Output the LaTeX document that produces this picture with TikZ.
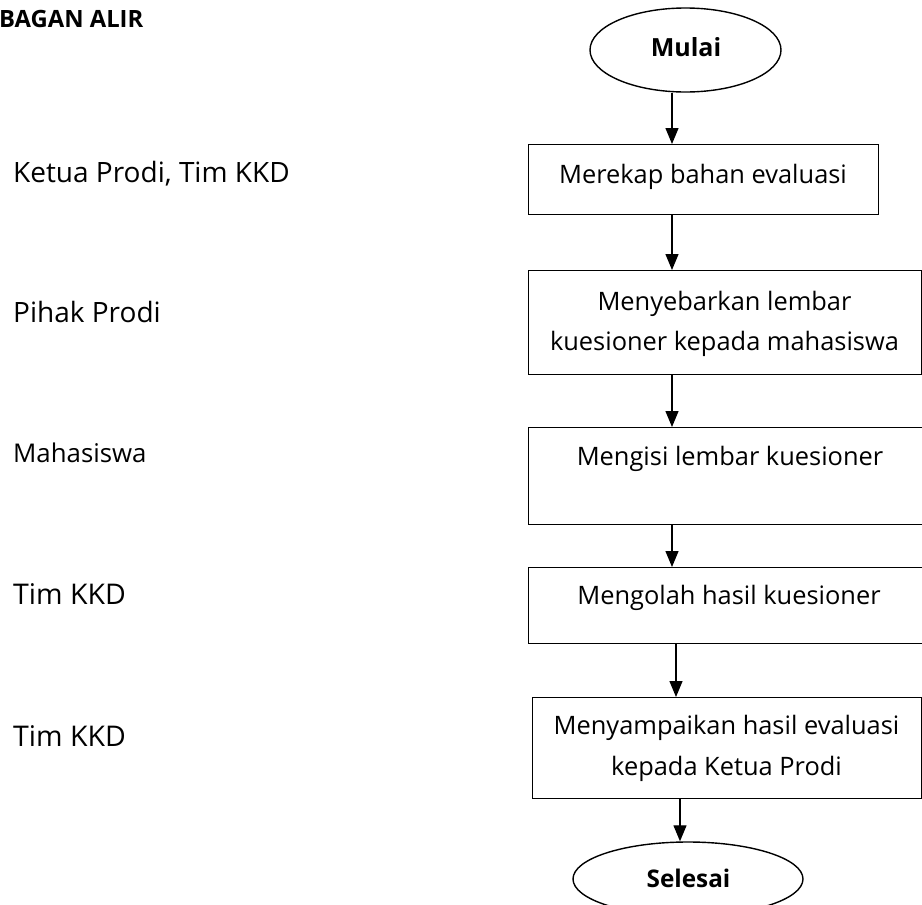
\documentclass[tikz,border=0pt]{standalone}
\usepackage{fontspec}
\setmainfont{Open Sans}
\usetikzlibrary{shapes.geometric,arrows.meta}
\begin{document}
\begin{tikzpicture}[x=1pt,y=-1pt,
  box/.style={draw,line width=1.4pt,inner sep=0pt,anchor=north west},
  term/.style={draw,ellipse,line width=1.4pt,inner sep=0pt},
  arr/.style={line width=1.3pt,-{Triangle[length=16pt,width=13pt]}},
  txt/.style={anchor=base,inner sep=0pt,font=\fontsize{25.4}{30}\selectfont},
  lbl/.style={anchor=base west,inner sep=0pt}]
\useasboundingbox (0,0) rectangle (922,905);
\clip (0,0) rectangle (922,905);
% title
\node[lbl,font=\fontsize{23.8}{30}\selectfont\bfseries] (title) at (-1,27) {BAGAN ALIR};
% left labels
\node[lbl,font=\fontsize{28}{40}\selectfont] (l1) at (13,182) {Ketua Prodi, Tim KKD};
\node[lbl,font=\fontsize{28}{40}\selectfont] (l2) at (13,322) {Pihak Prodi};
\node[lbl,font=\fontsize{25.8}{40}\selectfont] (l3) at (13,462) {Mahasiswa};
\node[lbl,font=\fontsize{28.5}{40}\selectfont] (l4) at (13,604) {Tim KKD};
\node[lbl,font=\fontsize{28.5}{40}\selectfont] (l5) at (13,746) {Tim KKD};
% terminals
\node[term,minimum width=191pt,minimum height=84pt] (mulai) at (685.5,50) {};
\node[anchor=base,inner sep=0pt,font=\fontsize{25}{30}\selectfont\bfseries] (tm) at (686,56) {Mulai};
\node[term,minimum width=230pt,minimum height=74pt] (selesai) at (688,879) {};
\node[anchor=base,inner sep=0pt,font=\fontsize{24.3}{30}\selectfont\bfseries] (ts) at (688.5,887) {Selesai};
% boxes
\node[box,minimum width=350pt,minimum height=70pt] (b1) at (528,144) {};
\node[box,minimum width=393pt,minimum height=104pt] (b2) at (528,270) {};
\node[box,minimum width=404pt,minimum height=97pt] (b3) at (528,427) {};
\node[box,minimum width=402pt,minimum height=76pt] (b4) at (528,567) {};
\node[box,minimum width=389pt,minimum height=101pt] (b5) at (532,697) {};
% box texts
\node[txt] (t1) at (703,183) {Merekap bahan evaluasi};
\node[txt] (t2a) at (724.5,310) {Menyebarkan lembar};
\node[txt] (t2b) at (724.5,350) {kuesioner kepada mahasiswa};
\node[txt] (t3) at (730,465) {Mengisi lembar kuesioner};
\node[txt] (t4) at (729,604) {Mengolah hasil kuesioner};
\node[txt] (t5a) at (726.5,734) {Menyampaikan hasil evaluasi};
\node[txt] (t5b) at (726.5,775) {kepada Ketua Prodi};
% arrow columns
\coordinate (c1) at (672,0);
\coordinate (c2) at (676,0);
\coordinate (c3) at (680,0);
\draw[arr] (c1 |- mulai.south) -- (c1 |- b1.north);
\draw[arr] (c1 |- b1.south) -- (c1 |- b2.north);
\draw[arr] (c1 |- b2.south) -- (c1 |- b3.north);
\draw[arr] (c1 |- b3.south) -- (c1 |- b4.north);
\draw[arr] (c2 |- b4.south) -- (c2 |- b5.north);
\draw[arr] (c3 |- b5.south) -- (c3 |- selesai.north);
\end{tikzpicture}
\end{document}
